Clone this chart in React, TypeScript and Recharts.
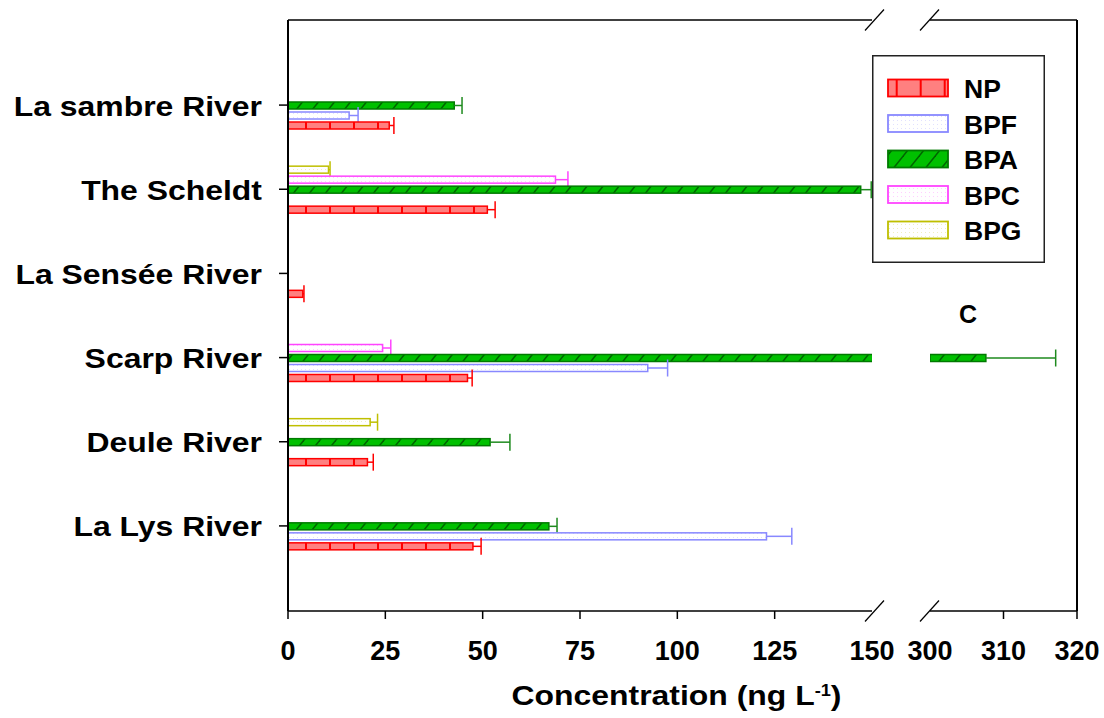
import React from "react";
import { BarChart, Bar, XAxis, YAxis, Legend, ReferenceLine, CartesianGrid } from "recharts";

// rivers, top to bottom
const CATEGORIES = [
  "La sambre River",
  "The Scheldt",
  "La Sensée River",
  "Scarp River",
  "Deule River",
  "La Lys River",
];

// concentrations (ng/L) and the upper error
const NP = [26.0, 51.2, 3.8, 46.1, 20.4, 47.5];
const NP_ERR = [1.2, 2.0, 0.3, 1.2, 1.5, 2.1];
const BPF = [15.7, null, null, 92.4, null, 122.9];
const BPF_ERR = [2.3, 0, 0, 5.1, 0, 6.5];
const BPA = [42.7, 147.1, null, 307.6, 51.9, 67.0];
const BPA_ERR = [2.0, 2.7, 0, 9.5, 5.1, 2.1];
const BPC = [null, 68.7, null, 24.3, null, null];
const BPC_ERR = [0, 3.2, 0, 2.1, 0, 0];
const BPG = [null, 10.4, null, null, 21.1, null];
const BPG_ERR = [0, 0.4, 0, 0, 1.9, 0];

const LEFT_DOMAIN = [0, 150];
const RIGHT_DOMAIN = [300, 320];
const LEFT_TICKS = [0, 25, 50, 75, 100, 125, 150];
const RIGHT_TICKS = [300, 310, 320];

const FONT = "'Liberation Sans', Arial, sans-serif";

// bar order inside a category (top -> bottom)
const SERIES = [
  { key: "BPG", values: BPG, errors: BPG_ERR, stroke: "#BFBF00", err: "#BFBF00" },
  { key: "BPC", values: BPC, errors: BPC_ERR, stroke: "#FF44FF", err: "#FF44FF" },
  { key: "BPA", values: BPA, errors: BPA_ERR, stroke: "#007A00", err: "#1E8A1E" },
  { key: "BPF", values: BPF, errors: BPF_ERR, stroke: "#8888FF", err: "#8888FF" },
  { key: "NP", values: NP, errors: NP_ERR, stroke: "#FF0000", err: "#FF0000" },
];
const LEGEND_ORDER = [...SERIES].reverse();

function buildRows(keep: (v: number) => boolean) {
  return CATEGORIES.map((name, i) => {
    const row: any = { name };
    SERIES.forEach((s) => {
      const v = s.values[i];
      row[s.key] = v != null && keep(v) ? v : null;
      row[s.key + "Err"] = s.errors[i];
    });
    return row;
  });
}

const leftData = buildRows(() => true);
const rightData = buildRows((v) => v > RIGHT_DOMAIN[0]);

// layout shared by both halves of the broken axis
const CHART_H = 718;
const MARGIN_TOP = 20;
const MARGIN_BOTTOM = 47;
const XAXIS_H = 60;
const PLOT_H = CHART_H - MARGIN_TOP - MARGIN_BOTTOM - XAXIS_H;
const PAD = { top: 43, bottom: 43 };

function patternDefs(prefix: string, npX: number) {
  const dots = (key: string, color: string) => (
    <pattern key={key} id={`${prefix}-${key}`} patternUnits="userSpaceOnUse" width={4} height={4}>
      <rect width={4} height={4} fill="#fff" />
      <rect x={1} y={1} width={1} height={1} fill={color} opacity={0.25} />
    </pattern>
  );
  return (
    <defs>
      <pattern id={`${prefix}-NP`} patternUnits="userSpaceOnUse" x={npX} y={0} width={24} height={24}>
        <rect width={24} height={24} fill="#FF8080" />
        <line x1={1} y1={0} x2={1} y2={24} stroke="#FF0000" strokeWidth={2} />
      </pattern>
      <pattern id={`${prefix}-BPA`} patternUnits="userSpaceOnUse" width={16} height={20}>
        <rect width={16} height={20} fill="#00C000" />
        <line x1={0} y1={20} x2={16} y2={0} stroke="#006400" strokeWidth={1.5} />
        <line x1={-2} y1={2.5} x2={2} y2={-2.5} stroke="#006400" strokeWidth={1.5} />
        <line x1={14} y1={22.5} x2={18} y2={17.5} stroke="#006400" strokeWidth={1.5} />
      </pattern>
      {dots("BPF", "#8888FF")}
      {dots("BPC", "#FF44FF")}
      {dots("BPG", "#BFBF00")}
    </defs>
  );
}

const makeShape = (s: any, prefix: string, base: number) => (props: any) => {
  const { x, y, width, height, payload } = props;
  const v = payload ? payload[s.key] : null;
  if (v == null || !width) return <g />;
  const err = payload[s.key + "Err"] || 0;
  const perUnit = width / (v - base);
  const end = x + width;
  const errEnd = end + err * perUnit;
  const cy = y + height / 2;
  return (
    <g>
      <rect x={x} y={y} width={width} height={height} fill={`url(#${prefix}-${s.key})`} stroke={s.stroke} strokeWidth={1.5} />
      {err > 0 && (
        <g>
          <line x1={end} x2={errEnd} y1={cy} y2={cy} stroke={s.err} strokeWidth={1.5} />
          <line x1={errEnd} x2={errEnd} y1={cy - 8.5} y2={cy + 8.5} stroke={s.err} strokeWidth={1.5} />
        </g>
      )}
    </g>
  );
};

const TICK_LEN = 8;
const TICK_GAP = 22;

const slash = (cx: number, cy: number) => (
  <line x1={cx - 9.5} y1={cy + 10.5} x2={cx + 9.5} y2={cy - 10.5} stroke="#000" strokeWidth={1.2} />
);

// bottom ticks; at the break value draw the slashes (bottom and top frame) instead of a tick mark
const makeBottomTick = (breakAt: number, dx: number) => (props: any) => {
  const { x, y, payload } = props;
  const axisY = y - TICK_LEN - TICK_GAP;
  const isBreak = payload.value === breakAt;
  return (
    <g>
      {isBreak ? (
        <g>
          {slash(x + dx, axisY)}
          {slash(x + dx, axisY - PLOT_H)}
        </g>
      ) : (
        <line x1={x} x2={x} y1={axisY} y2={axisY + TICK_LEN} stroke="#000" strokeWidth={1.5} />
      )}
      <text x={x} y={axisY + 49} textAnchor="middle" fontSize={27} fontWeight="bold" fontFamily={FONT} fill="#000">
        {payload.value}
      </text>
    </g>
  );
};

const YTick = (props: any) => {
  const { x, y, payload } = props;
  return (
    <g transform={`translate(${x},${y}) scale(1.14,1)`}>
      <text x={0} y={0} dy={10.5} textAnchor="end" fontSize={28} fontWeight="bold" fontFamily={FONT} fill="#000">
        {payload.value}
      </text>
    </g>
  );
};

// top edge of the frame
const topEdge = (p: any) => [p.offset.top];

const renderLegend = () => (
  <svg width={173} height={208}>
    {patternDefs("G", 23.7)}
    <rect x={0.75} y={0.75} width={171.5} height={206.5} fill="#fff" stroke="#222" strokeWidth={1.5} />
    {LEGEND_ORDER.map((s, i) => {
      const cy = 33 + i * 35.5;
      return (
        <g key={s.key}>
          <rect x={16} y={cy - 8.5} width={60} height={17} fill={`url(#G-${s.key})`} stroke={s.stroke} strokeWidth={1.8} />
          <text x={92} y={cy + 10} fontSize={26.5} fontWeight="bold" fontFamily={FONT} fill="#000">
            {s.key}
          </text>
        </g>
      );
    })}
  </svg>
);

export default function App() {
  return (
    <div style={{ position: "absolute", left: 0, top: 0, width: 1104, height: 718, background: "#fff" }}>
      <div style={{ position: "absolute", left: 0, top: 0 }}>
        <BarChart
          width={900}
          height={CHART_H}
          data={leftData}
          layout="vertical"
          margin={{ top: MARGIN_TOP, right: 28, bottom: MARGIN_BOTTOM, left: 0 }}
          barSize={7}
          barGap={3}
        >
          {patternDefs("L", 17)}
          <CartesianGrid vertical={false} horizontalCoordinatesGenerator={topEdge} stroke="#000" strokeWidth={1.5} />
          <XAxis
            type="number"
            domain={LEFT_DOMAIN}
            allowDataOverflow
            ticks={LEFT_TICKS}
            interval={0}
            height={XAXIS_H}
            tickLine={false}
            tickSize={TICK_LEN}
            tickMargin={TICK_GAP}
            tick={makeBottomTick(150, 2.5)}
            axisLine={{ stroke: "#000", strokeWidth: 1.5 }}
          />
          <YAxis
            type="category"
            dataKey="name"
            width={288}
            padding={PAD}
            interval={0}
            tickSize={9}
            tickMargin={17}
            tick={YTick}
            axisLine={{ stroke: "#000", strokeWidth: 2 }}
            tickLine={{ stroke: "#000", strokeWidth: 1.5 }}
          />
          {SERIES.map((s) => (
            <Bar key={s.key} dataKey={s.key} isAnimationActive={false} shape={makeShape(s, "L", LEFT_DOMAIN[0])} />
          ))}
        </BarChart>
      </div>

      <div style={{ position: "absolute", left: 860, top: 0 }}>
        <BarChart
          width={244}
          height={CHART_H}
          data={rightData}
          layout="vertical"
          margin={{ top: MARGIN_TOP, right: 27, bottom: MARGIN_BOTTOM, left: 70 }}
          barSize={7}
          barGap={3}
        >
          {patternDefs("R", 17)}
          <CartesianGrid vertical={false} horizontalCoordinatesGenerator={topEdge} stroke="#000" strokeWidth={1.5} />
          <XAxis
            type="number"
            domain={RIGHT_DOMAIN}
            allowDataOverflow
            ticks={RIGHT_TICKS}
            interval={0}
            height={XAXIS_H}
            tickLine={false}
            tickSize={TICK_LEN}
            tickMargin={TICK_GAP}
            tick={makeBottomTick(300, -0.5)}
            axisLine={{ stroke: "#000", strokeWidth: 1.5 }}
          />
          <YAxis type="category" dataKey="name" hide padding={PAD} />
          <ReferenceLine x={RIGHT_DOMAIN[1]} stroke="#000" strokeWidth={2} />
          {SERIES.map((s) => (
            <Bar key={s.key} dataKey={s.key} isAnimationActive={false} shape={makeShape(s, "R", RIGHT_DOMAIN[0])} />
          ))}
          <Legend
            content={renderLegend}
            layout="horizontal"
            verticalAlign="middle"
            align="center"
            wrapperStyle={{ left: 12, top: 55, width: 173, height: 208 }}
          />
        </BarChart>
      </div>

      <svg width={1104} height={718} style={{ position: "absolute", left: 0, top: 0, pointerEvents: "none" }}>
        <text
          transform="translate(676.5,705) scale(1.14,1)"
          textAnchor="middle"
          fontSize={28}
          fontWeight="bold"
          fontFamily={FONT}
          fill="#000"
        >
          Concentration (ng L
          <tspan dy={-9} fontSize={16}>-1</tspan>
          <tspan dy={9}>)</tspan>
        </text>
        <text x={968} y={323} textAnchor="middle" fontSize={25} fontWeight="bold" fontFamily={FONT} fill="#000">
          C
        </text>
      </svg>
    </div>
  );
}
